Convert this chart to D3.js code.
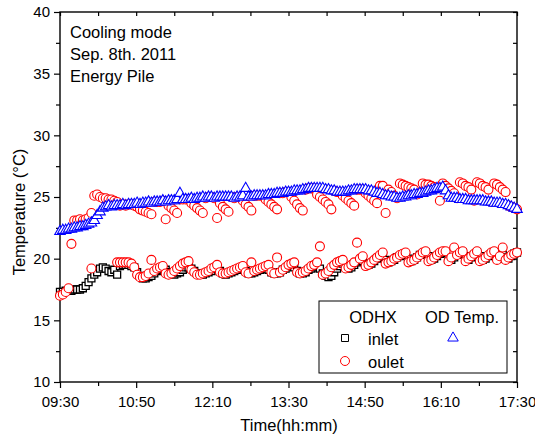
<!DOCTYPE html>
<html>
<head>
<meta charset="utf-8">
<script src="https://cdn.jsdelivr.net/npm/d3@7"></script>
<style>
  body { margin: 0; background: #fff; }
  text { font-family: "Liberation Sans", Arial, sans-serif; fill: #000; }
</style>
</head>
<body>
<div id="chart"></div>
<script>
//sampling: one reading every 3 minutes from 09:30
var stepMinutes = 3;

//x tick labels (every 80 minutes)
var xTickMinutes = [0, 80, 160, 240, 320, 400, 480],
    xTickLabels = ["09:30", "10:50", "12:10", "13:30", "14:50", "16:10", "17:30"],
    yTickValues = [10, 15, 20, 25, 30, 35, 40];

//OD Temp. (triangles)
var odTemp = [22.2,22.3,22.3,22.4,22.4, 22.5,22.5,22.6,22.6,22.7, 22.8,22.9,23.1,23.5,23.8,
  24.1,24.2,24.3,24.2,24.3, 24.3,24.3,24.4,24.3,24.4, 24.4,24.4,24.5,24.4,24.5,
  24.5,24.6,24.5,24.6,24.6, 24.6,24.7,24.6,24.7,24.7, 24.7,24.8,25.3,24.8,24.8,
  24.8,24.9,24.8,24.9,24.9, 25.0,24.9,25.0,25.0,24.9, 25.0,25.0,25.0,25.0,25.0,
  25.0,24.9,25.0,25.0,25.1, 25.7,25.0,25.0,25.1,25.1, 25.1,25.1,25.1,25.2,25.2,
  25.2,25.3,25.3,25.3,25.4, 25.4,25.4,25.5,25.5,25.5, 25.6,25.6,25.7,25.7,25.7,
  25.7,25.7,25.7,25.6,25.6, 25.5,25.5,25.4,25.4,25.4, 25.4,25.5,25.5,25.6,25.6,
  25.6,25.6,25.6,25.5,25.5, 25.4,25.3,25.3,25.2,25.1, 25.1,25.0,25.0,24.9,24.9,
  25.0,25.0,25.1,25.1,25.2, 25.2,25.3,25.3,25.4,25.5, 25.5,25.6,25.7,25.7,25.8,
  25.5,25.1,24.9,24.9,24.9, 24.8,24.8,24.8,24.7,24.7, 24.7,24.7,24.7,24.7,24.6,
  24.6,24.6,24.5,24.5,24.5, 24.4,24.4,24.3,24.2,24.1, 24.0];

//ODHX inlet (squares)
var inlet = [17.3,17.3,17.4,17.4,17.4, 17.5,17.5,17.5,17.6,17.8, 18.1,18.4,18.7,18.9,19.2,
  19.3,19.2,19.0,18.9,19.1, 18.7,19.4,19.5,19.5,19.5, 19.4,19.3,18.9,18.6,18.4,
  18.4,18.5,18.6,18.8,19.0, 19.1,19.2,19.1,18.9,18.8, 18.7,18.8,18.9,19.1,19.3,
  19.3,19.2,19.0,18.8,18.7, 18.7,18.8,18.9,19.0,19.2, 19.2,19.0,18.8,18.7,18.8,
  18.9,19.0,19.1,19.2,19.2, 19.0,18.8,18.8,18.9,19.0, 19.1,19.2,19.2,19.1,18.9,
  18.8,18.8,18.9,19.1,19.2, 19.4,19.4,19.3,19.0,18.8, 18.8,18.9,19.1,19.2,19.3,
  19.4,19.2,18.8,18.6,18.5, 18.6,18.9,19.2,19.4,19.6, 19.4,19.2,19.3,19.5,19.7,
  19.8,19.8,19.6,19.5,19.6, 19.8,20.0,20.1,20.2,19.9, 19.7,19.8,19.9,20.1,20.2,
  20.3,20.3,20.0,19.8,19.9, 20.1,20.3,20.4,20.5,20.2, 19.9,20.0,20.2,20.4,20.5,
  20.5,20.1,19.9,20.1,20.3, 20.4,20.5,20.2,19.9,20.1, 20.3,20.5,20.2,19.9,20.0,
  20.2,20.4,20.5,20.2,20.0, 20.3,20.1,20.0,20.2,20.4, 20.5];

//ODHX outlet, lower band (circles)
var outletLow = [17.0,17.1,17.3,17.6,null, null,null,null,null,null, null,19.2,null,null,null,
  null,null,null,null,null, 19.7,19.7,19.7,19.7,19.7, 19.6,19.3,18.7,18.5,18.5,
  18.6,18.8,19.9,19.0,19.2, 19.3,19.4,18.8,18.7,18.8, 19.0,19.2,19.4,19.6,19.7,
  19.8,19.1,18.9,18.7,18.7, 18.8,18.9,19.0,19.2,19.3, 19.5,18.9,18.8,18.8,18.9,
  19.0,19.1,19.2,19.3,19.4, 18.9,18.8,19.7,19.0,19.1, 19.2,19.3,19.4,19.5,18.9,
  18.8,20.1,18.9,19.1,19.3, 19.5,19.6,19.7,18.9,18.8, 18.9,19.0,19.2,19.4,19.5,
  19.7,21.0,18.7,18.8,19.0, 19.3,19.5,19.7,19.8,19.9, 19.2,19.3,19.5,19.7,21.3,
  20.0,20.2,19.4,19.5,19.7, 19.9,20.1,20.3,20.5,19.6, 19.7,19.8,20.0,20.1,20.3,
  20.4,20.5,19.7,19.8,19.9, 20.1,20.3,20.5,20.6,19.8, 19.9,20.1,20.3,20.5,20.6,
  20.6,19.8,20.1,20.9,20.3, 20.5,20.6,19.8,20.0,20.2, 20.4,20.6,19.8,19.9,20.1,
  20.3,20.5,20.6,19.9,20.2, 20.9,19.9,20.1,20.3,20.4, 20.5];

//ODHX outlet, upper band (circles)
var outletHigh = [null,null,null,null,21.2, 23.1,23.1,23.2,23.1,23.2, 23.3,23.7,25.1,25.2,25.0,
  24.9,24.9,24.8,24.8,24.7, 24.6,24.3,24.4,24.3,24.4, 24.4,24.3,24.2,24.0,23.9,
  23.8,23.7,23.6,24.6,24.6, 24.6,24.7,23.2,24.3,24.1, 23.9,23.7,24.8,24.8,24.8,
  24.8,24.5,24.3,24.1,23.9, 23.7,24.9,25.0,25.0,24.9, 23.3,24.5,24.2,24.0,23.8,
  25.0,24.9,25.0,25.0,24.7, 24.4,24.2,23.9,25.1,25.1, 25.1,25.1,24.8,24.6,24.4,
  24.2,24.0,25.3,25.3,25.4, 25.4,25.0,24.7,24.4,24.1, 23.9,25.6,25.7,25.7,25.7,
  25.2,25.0,24.8,24.6,24.4, 24.0,25.5,25.4,25.4,25.1, 24.9,24.7,24.5,24.3,25.6,
  25.6,25.6,25.3,25.1,24.9, 24.7,24.5,25.9,25.9,23.7, 25.6,25.4,25.1,24.9,26.1,
  26.0,25.9,25.8,25.7,25.6, 25.2,25.3,26.1,26.0,26.0, 25.9,25.8,25.7,24.7,26.1,
  25.9,25.7,25.5,25.3,24.9, 26.2,26.1,25.9,25.8,25.6, 24.7,26.2,26.1,25.9,25.8,
  25.6,24.6,26.1,26.0,25.8, 25.6,25.4,24.3,24.2,24.1, 24.0];

//chart frame dimensions
var chartWidth = 535,
    chartHeight = 442,
    plotLeft = 60,
    plotRight = 517,
    plotTop = 12,
    plotBottom = 382;

var minutes = odTemp.map(function(d, i) { return i * stepMinutes; });

var x = d3.scaleLinear().domain([0, 480]).range([plotLeft, plotRight]);
var y = d3.scaleLinear().domain([10, 40]).range([plotBottom, plotTop]);

var svg = d3.select("#chart")
    .append("svg")
    .attr("width", chartWidth)
    .attr("height", chartHeight);

//axes
var xMinor = [40, 120, 200, 280, 360, 440],
    yMinor = [12.5, 17.5, 22.5, 27.5, 32.5, 37.5];

function styleAxis(g) {
    g.select(".domain").remove();
    g.selectAll("line").attr("stroke", "#000").attr("stroke-width", 1.2);
    g.selectAll("text").style("font-family", "'Liberation Sans', Arial, sans-serif").style("font-size", "15px").attr("fill", "#000");
}

svg.append("g")
    .attr("transform", "translate(0," + plotBottom + ")")
    .call(d3.axisBottom(x).tickValues(xTickMinutes).tickSize(6).tickPadding(8)
        .tickFormat(function(d, i) { return xTickLabels[i]; }))
    .call(styleAxis);
svg.append("g")
    .attr("transform", "translate(0," + plotBottom + ")")
    .call(d3.axisBottom(x).tickValues(xMinor).tickSize(4).tickFormat(""))
    .call(styleAxis);
svg.append("g")
    .attr("transform", "translate(0," + plotTop + ")")
    .call(d3.axisTop(x).tickValues(xTickMinutes.concat(xMinor)).tickSize(-4).tickFormat(""))
    .call(styleAxis);

svg.append("g")
    .attr("transform", "translate(" + plotLeft + ",0)")
    .call(d3.axisLeft(y).tickValues(yTickValues).tickSize(6).tickPadding(4))
    .call(styleAxis);
svg.append("g")
    .attr("transform", "translate(" + plotLeft + ",0)")
    .call(d3.axisLeft(y).tickValues(yMinor).tickSize(4).tickFormat(""))
    .call(styleAxis);
svg.append("g")
    .attr("transform", "translate(" + plotRight + ",0)")
    .call(d3.axisRight(y).tickValues(yTickValues.concat(yMinor)).tickSize(-4).tickFormat(""))
    .call(styleAxis);

//frame
svg.append("rect")
    .attr("x", plotLeft)
    .attr("y", plotTop)
    .attr("width", plotRight - plotLeft)
    .attr("height", plotBottom - plotTop)
    .attr("fill", "none")
    .attr("stroke", "#000")
    .attr("stroke-width", 1.4);

//markers
var plot = svg.append("g");
var squareSym = d3.symbol().type(d3.symbolSquare).size(49),
    triSym = d3.symbol().type(d3.symbolTriangle).size(48);

function pts(arr) {
    return arr.map(function(v, i) { return { t: minutes[i], v: v }; })
        .filter(function(d) { return d.v != null; });
}

plot.selectAll(".inlet")
    .data(pts(inlet))
    .enter()
    .append("path")
        .attr("d", squareSym)
        .attr("transform", function(d) { return "translate(" + x(d.t) + "," + y(d.v) + ")"; })
        .attr("fill", "#fff")
        .attr("stroke", "#000")
        .attr("stroke-width", 1.3);

plot.selectAll(".outlet")
    .data(pts(outletLow).concat(pts(outletHigh)).sort(function(a, b) { return a.t - b.t; }))
    .enter()
    .append("circle")
        .attr("cx", function(d) { return x(d.t); })
        .attr("cy", function(d) { return y(d.v); })
        .attr("r", 4.5)
        .attr("fill", "#fff")
        .attr("stroke", "#ff0000")
        .attr("stroke-width", 1.1);

plot.selectAll(".od")
    .data(pts(odTemp))
    .enter()
    .append("path")
        .attr("d", triSym)
        .attr("transform", function(d) { return "translate(" + x(d.t) + "," + y(d.v) + ")"; })
        .attr("fill", "#fff")
        .attr("stroke", "#0000ff")
        .attr("stroke-width", 1.1);

//annotation
var note = ["Cooling mode", "Sep. 8th. 2011", "Energy Pile"];
svg.selectAll(".note")
    .data(note)
    .enter()
    .append("text")
        .attr("x", 70)
        .attr("y", function(d, i) { return 38 + i * 21.8; })
        .style("font-size", "16.5px")
        .text(function(d) { return d; });

//axis titles
svg.append("text")
    .attr("x", 289)
    .attr("y", 431)
    .style("text-anchor", "middle")
    .style("font-size", "16.5px")
    .text("Time(hh:mm)");

svg.append("text")
    .attr("transform", "translate(25,212) rotate(-90)")
    .style("text-anchor", "middle")
    .style("font-size", "16.5px")
    .text("Temperature (°C)");

//legend
var legend = svg.append("g");
legend.append("rect")
    .attr("x", 319).attr("y", 301)
    .attr("width", 188).attr("height", 72)
    .attr("fill", "#fff")
    .attr("stroke", "#000")
    .attr("stroke-width", 1);
legend.append("text").attr("x", 373).attr("y", 323).style("text-anchor", "middle").style("font-size", "16.5px").text("ODHX");
legend.append("text").attr("x", 462).attr("y", 323).style("text-anchor", "middle").style("font-size", "16.5px").text("OD Temp.");
legend.append("path").attr("d", squareSym).attr("transform", "translate(345,338)")
    .attr("fill", "#fff").attr("stroke", "#000");
legend.append("text").attr("x", 368).attr("y", 345).style("font-size", "16.5px").text("inlet");
legend.append("circle").attr("cx", 345).attr("cy", 361).attr("r", 4.5)
    .attr("fill", "#fff").attr("stroke", "#ff0000");
legend.append("text").attr("x", 368).attr("y", 368).style("font-size", "16.5px").text("oulet");
legend.append("path").attr("d", triSym).attr("transform", "translate(453,338)")
    .attr("fill", "#fff").attr("stroke", "#0000ff");
</script>
</body>
</html>
